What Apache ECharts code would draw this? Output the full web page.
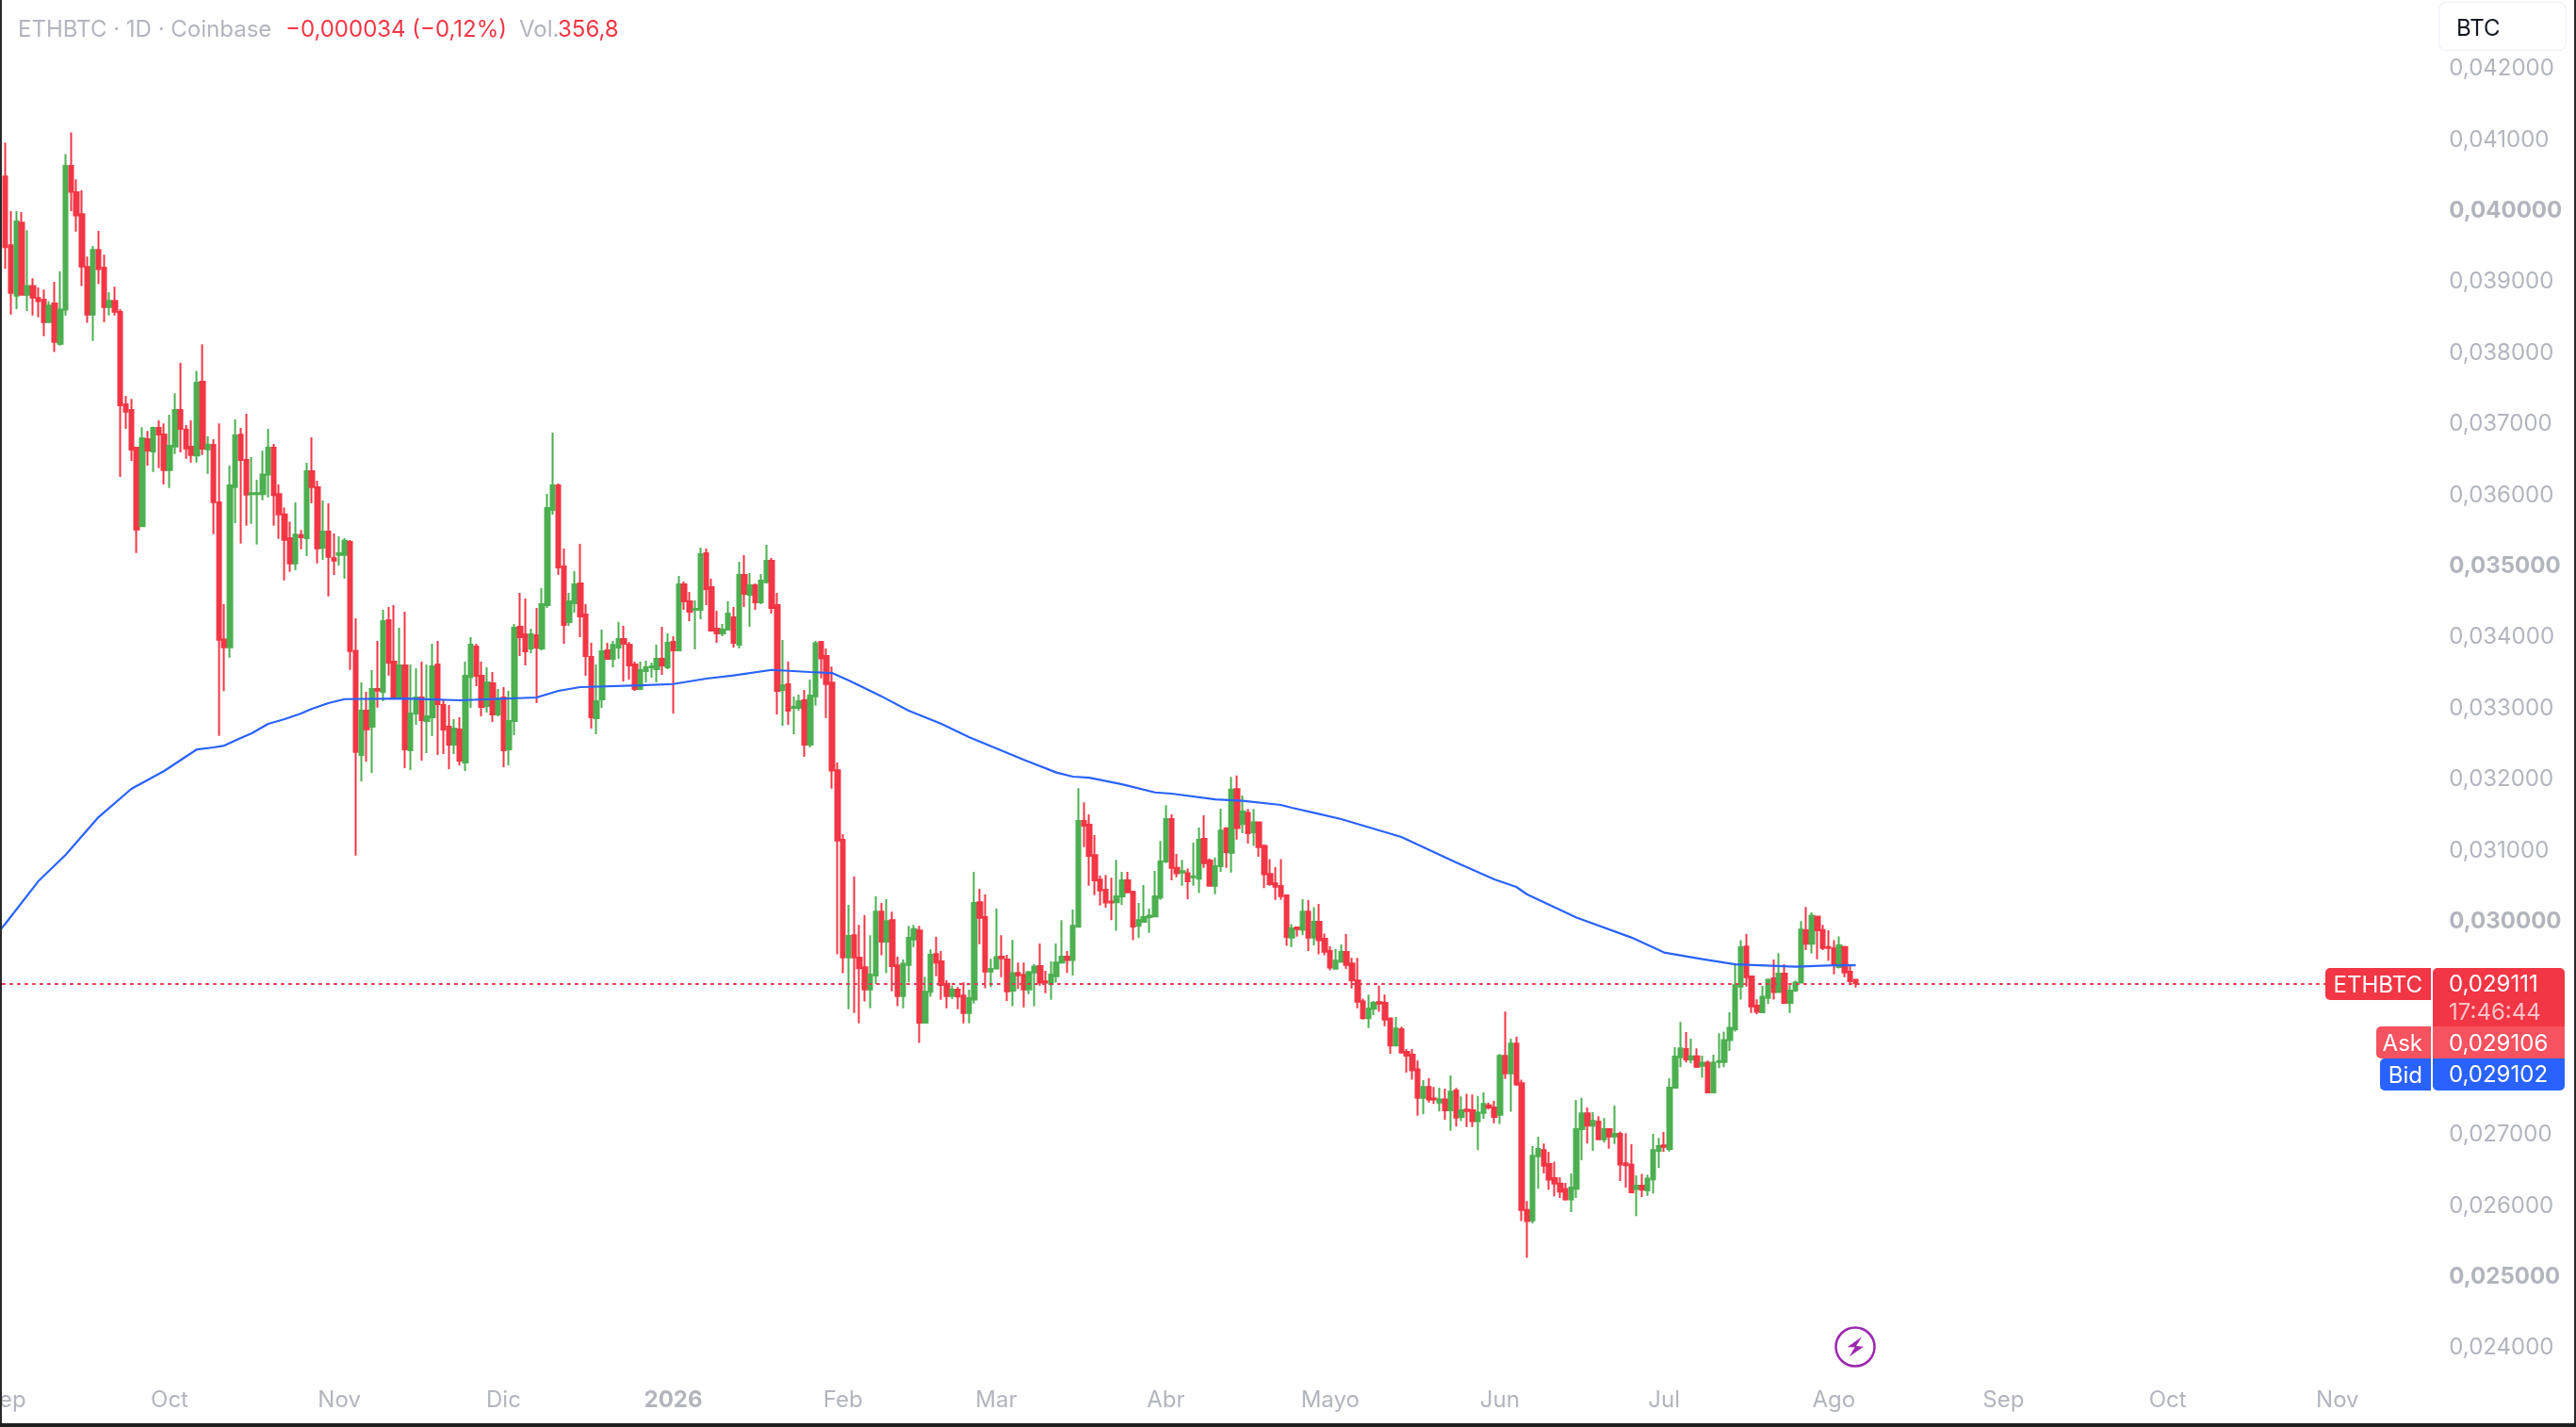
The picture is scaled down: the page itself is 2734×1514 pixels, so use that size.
<!DOCTYPE html>
<html><head><meta charset="utf-8"><title>ETHBTC</title>
<style>html,body{margin:0;padding:0;background:#fff}#c{width:2734px;height:1514px}</style>
<script src="https://cdn.jsdelivr.net/npm/echarts@6/dist/echarts.min.js"></script>
</head><body><div id="c"></div>
<script>
// All prices are in millionths of BTC. Each row: [open, close, low, high], first row = 1 Sep 2025
const candles = [
[40466,39471,39166,40943],[39496,38826,38522,39979],[38786,39831,38598,39979],[39816,38801,38786,39963],[38801,38923,38572,39710],
[38923,38760,38507,39034],[38755,38710,38481,38902],[38730,38415,38217,38872],[38415,38649,38405,38710],[38679,38136,37994,38984],
[38111,38593,38085,39131],[38593,40613,38507,40780],[40613,40248,39979,41085],[40243,39918,39689,40425],[39933,39197,38923,40273],
[39192,38522,38405,39339],[38522,39430,38151,39486],[39430,39161,38953,39699],[39182,38628,38415,39364],[38628,38715,38507,38836],
[38715,38562,38507,38913],[38557,37245,36237,38598],[37258,37157,36914,37378],[37179,36622,36463,37334],[36648,35499,35167,36662],
[35543,36781,35534,36936],[36768,36608,36396,36883],[36595,36927,36308,36944],[36927,36834,36361,37033],[36834,36334,36131,36989],
[36334,36675,36082,37112],[36666,37179,36560,37413],[37179,36914,36582,37842],[36905,36639,36494,36967],[36662,36547,36440,37033],
[36538,37563,36440,37730],[37577,36635,36547,38105],[36626,36693,36281,36812],[36688,35883,35432,36768],[35879,33947,32594,36989],
[33951,33841,33222,34447],[33841,36118,33695,36396],[36096,36821,35587,37046],[36830,36476,35300,36927],[36476,35990,35552,37126],
[35994,36007,35578,36516],[35994,36007,35287,36197],[35994,36272,35910,36604],[36272,36648,35950,36914],[36648,35981,35552,36701],
[35994,35711,35366,36131],[35711,35353,34783,35808],[35375,35021,34902,35609],[35021,35424,34924,35879],[35419,35388,35220,35490],
[35375,36317,35123,36436],[36317,36096,35866,36794],[36091,35234,35021,36184],[35242,35468,35070,35906],[35468,35114,34557,35866],
[35092,35061,34858,35441],[35141,35163,34990,35402],[35141,35340,34805,35375],[35322,33788,33523,35349],[33792,32369,30910,34248],
[32325,32948,31954,33346],[32948,32687,32228,33213],[32723,33253,32073,33518],[33253,33231,32991,33930],[33213,34208,33081,34367],
[34221,33625,33443,34407],[33638,33134,33112,34434],[33134,33585,33112,34115],[33585,32404,32139,34341],[32391,32908,32113,33598],
[32908,33134,32749,33545],[33134,32816,32245,33638],[32802,32869,32351,33598],[32855,33571,32590,33890],[33598,33041,32325,33930],
[33028,32683,32338,33107],[32723,32471,32126,33028],[32471,32696,32338,32829],[32683,32245,32179,32855],[32219,33439,32099,33638],
[33421,33877,32988,33983],[33850,33439,33293,33890],[33439,33001,32869,33638],[33014,33346,32922,33558],[33333,32895,32789,33492],
[32895,33121,32869,33253],[33134,32391,32152,33280],[32404,32802,32179,33227],[32802,34115,32603,34168],[34129,33983,33717,34606],
[34022,33784,33585,34526],[33823,34022,33757,34102],[34009,33837,33054,34394],[33823,34447,33797,34672],[34434,35800,34394,35999],
[35773,36118,35707,36861],[36118,34964,34858,36145],[34977,34155,33890,35229],[34195,34487,34142,34606],[34460,34725,34328,34911],
[34739,34274,33983,35296],[34301,33717,33439,34447],[33704,32855,32696,33903],[32842,33081,32617,33598],[33107,33784,32988,34089],
[33797,33678,33664,33903],[33678,33872,33558,33930],[33837,33956,33678,34195],[33956,33890,33359,34142],[33877,33585,33386,33916],
[33598,33253,33227,33638],[33253,33518,33240,33638],[33505,33558,33346,33651],[33558,33571,33412,33625],[33532,33678,33346,33877],
[33678,33585,33452,34129],[33558,33903,33532,34036],[33916,33797,32908,33996],[33797,34725,33788,34845],[34725,34487,34367,34765],
[34487,34341,34208,34619],[34367,34381,33810,34500],[34367,35150,34235,35243],[35163,34659,34434,35229],[34686,34076,34062,34805],
[34102,34036,33903,34354],[34036,34089,33996,34168],[34089,34314,34076,34487],[34261,33903,33837,34407],[33877,34858,33823,35044],
[34858,34593,34407,35137],[34580,34712,34129,34885],[34712,34473,34367,34739],[34473,34778,34447,34871],[34756,35057,34739,35282],
[35057,34394,34314,35097],[34434,33227,32895,34606],[33240,33306,32736,33943],[33319,32948,32749,33638],[32988,33001,32617,33147],
[32988,33081,32948,33174],[33094,32471,32298,33240],[32471,33160,32431,33386],[33152,33896,33020,33929],[33915,33683,33404,33929],
[33716,33323,32845,33825],[33342,32106,31850,33569],[32110,31120,29519,32219],[31130,29477,29254,31210],[29477,29780,28747,30216],
[29789,29477,28695,30613],[29472,29325,28548,29936],[29339,29027,28856,30069],[29027,29235,28761,29789],[29221,30121,29102,30334],
[30121,29699,29505,30244],[29699,29988,29254,30296],[30002,29353,28998,30121],[29363,28932,28790,29486],[28932,29387,28761,29448],
[29372,29751,29126,29922],[29728,29875,29623,29936],[29856,28557,28273,29922],[28557,28993,28548,29206],[28993,29514,28922,29590],
[29524,29405,29211,29765],[29420,29088,28880,29566],[29107,28932,28761,29154],[28932,29022,28894,29079],[29022,28927,28747,29060],
[28941,28695,28548,29126],[28695,28903,28548,29022],[28884,30244,28827,30680],[30253,30035,29661,30443],[30045,29278,29041,30362],
[29278,29315,29060,29458],[29320,29481,29306,30163],[29486,29462,29197,29789],[29448,28998,28865,29514],[29008,29254,28790,29723],
[29259,29225,29031,29405],[29230,29027,28775,29405],[29027,29268,28960,29287],[29263,29349,28790,29382],[29353,29121,29079,29671],
[29140,29121,28974,29287],[29102,29235,28880,29420],[29211,29405,29121,29671],[29405,29486,29387,30002],[29486,29439,29259,29566],
[29439,29922,29221,30149],[29908,31395,29893,31859],[31395,31329,31030,31660],[31343,30907,30485,31490],[30917,30561,30353,31196],
[30571,30419,30206,30628],[30429,30249,30178,30637],[30263,30249,30002,30599],[30254,30334,29851,30850],[30334,30561,30216,30680],
[30561,30391,30381,30680],[30400,29912,29718,30414],[29922,30002,29751,30244],[29979,30045,29969,30495],[30045,30064,29822,30163],
[30054,30334,30045,30694],[30320,30827,30287,31116],[30827,31424,30803,31618],[31424,30737,30561,31490],[30737,30661,30604,30931],
[30670,30689,30485,30850],[30661,30547,30296,30727],[30604,30618,30485,31092],[30585,31130,30381,31305],[31144,30803,30737,31476],
[30841,30485,30471,30869],[30485,30760,30367,30883],[30760,31262,30680,31570],[31291,30959,30737,31310],[30950,31836,30670,32016],
[31845,31296,31134,32035],[31352,31528,31225,31755],[31509,31225,31078,31566],[31239,31376,31044,31566],[31376,31030,30893,31381],
[31044,30647,30452,31068],[30651,30509,30485,30860],[30519,30471,30287,30746],[30481,30339,30287,30860],[30348,29766,29638,30353],
[29756,29884,29623,29945],[29898,29875,29770,29908],[29865,30121,29789,30296],[30121,29756,29566,30282],[29756,29979,29647,30182],
[29979,29718,29519,30230],[29740,29557,29507,29811],[29567,29334,29293,29633],[29319,29431,29304,29593],[29415,29552,29405,29659],
[29552,29370,29314,29806],[29390,29156,29040,29471],[29151,28852,28760,29471],[28857,28623,28603,28897],[28623,28755,28481,28953],
[28755,28837,28664,28862],[28847,28826,28710,29080],[28837,28603,28507,28953],[28618,28238,28121,28623],[28238,28476,28227,28639],
[28466,28136,28126,28502],[28146,28095,27857,28187],[28106,27887,27755,28187],[27903,27502,27248,28024],[27502,27654,27273,27750],
[27654,27476,27436,27776],[27491,27476,27415,27654],[27436,27476,27309,27644],[27476,27324,27192,27629],[27324,27588,27035,27816],
[27603,27222,27096,27639],[27233,27324,27172,27522],[27334,27314,27090,27557],[27324,27172,27090,27547],[27172,27293,26766,27527],
[27288,27415,27207,27578],[27395,27365,27334,27436],[27365,27233,27141,27456],[27263,28090,27131,28116],[28090,27847,27766,28715],
[27847,28263,27304,28334],[28263,27689,27669,28359],[27705,25923,25766,27755],[25923,25766,25248,26050],[25776,26684,25735,26822],
[26679,26781,26222,26953],[26766,26547,26436,26857],[26568,26349,26207,26740],[26370,26293,26116,26603],[26293,26182,26090,26380],
[26217,26070,26055,26304],[26070,26238,25892,26436],[26222,27060,26090,27471],[27060,27283,26623,27502],[27283,27111,26857,27365],
[27111,27177,26755,27299],[27167,26918,26908,27243],[26918,27060,26872,27217],[27060,26958,26786,27070],[26958,26994,26852,27390],
[26994,26562,26329,27025],[26578,26552,26238,27004],[26562,26172,26162,26847],[26217,26263,25837,26410],[26263,26207,26106,26431],
[26197,26365,26121,26420],[26355,26766,26156,26994],[26756,26822,26512,26938],[26832,26811,26740,27019],[26781,27644,26745,27776],
[27644,28080,27634,28212],[28070,28197,27933,28567],[28187,28040,27999,28425],[28040,28085,27984,28334],[28085,27938,27923,28197],
[27953,27994,27781,28095],[27994,27578,27568,28024],[27578,27994,27568,28106],[28004,28019,27918,28410],[28004,28314,27933,28431],
[28314,28486,28161,28705],[28466,29085,28431,29395],[29065,29618,28882,29720],[29628,29197,29065,29806],[29207,28786,28694,29222],
[28796,28710,28679,28887],[28705,28923,28694,29075],[28908,29161,28821,29177],[29182,28989,28882,29446],[28989,29248,28979,29537],
[29248,28837,28821,29380],[28837,29009,28694,29085],[29014,29121,28989,29151],[29121,29867,29111,29989],[29857,29669,29578,30187],
[29669,30065,29532,30111],[30050,29857,29451,30060],[29862,29608,29578,29933],[29623,29608,29431,29857],[29603,29370,29238,29720],
[29340,29645,29322,29773],[29623,29265,29199,29640],[29274,29141,29088,29376],[29163,29111,29053,29172]
];
// Long moving average, read at these day numbers (0 = 31 Aug 2025)
const maDays = [0,1,7,12,18,24,30,36,39,41,44,46,49,52,55,57,60,63,74,84,98,102,106,117,123,129,134,141,148,152,155,159,161,166,172,177,182,187,193,196,199,205,211,214,222,227,234,236,241,245,256,266,273,277,279,288,298,304,311,317,328,335,339];
const maValues = [29858,29951,30547,30919,31449,31847,32099,32404,32431,32457,32563,32630,32762,32829,32908,32975,33054,33111,33120,33094,33134,33227,33280,33306,33323,33399,33443,33522,33492,33478,33376,33227,33152,32948,32762,32577,32417,32258,32078,32020,32006,31913,31798,31781,31701,31680,31622,31582,31494,31423,31171,30813,30574,30468,30362,30037,29757,29545,29453,29380,29346,29367,29367];
const tickDays = [1,31,62,92,123,154,182,213,243,274,304,335,366,396,427];
const tickLabels = ['Sep','Oct','Nov','Dic','2026','Feb','Mar','Abr','Mayo','Jun','Jul','Ago','Sep','Oct','Nov'];
const lastPrice = 29111, askPrice = 29106, bidPrice = 29102;
const TOTAL_DAYS = 446, LINE_END_DAY = 425;

const fontF = 'Inter, "Noto Sans", sans-serif';
const GREY = '#b2b5be', RED = '#f23645', GREEN = '#4caf50', BLUE = '#2962ff', ASK = '#f7525f';

const categories = [];
for (let i = 0; i < TOTAL_DAYS; i++) {
  categories.push(new Date(Date.UTC(2025, 7, 31 + i)).toISOString().slice(0, 10));
}
const labelOf = {};
tickDays.forEach((d, i) => { labelOf[categories[d]] = tickLabels[i]; });

function priceLine(v, color) {
  return [{ xAxis: categories[0], yAxis: v, lineStyle: { color, width: 2, type: [3, 5], dashOffset: 5.5 } },
          { xAxis: categories[LINE_END_DAY], yAxis: v }];
}
function txt(text, x, y, fill, align, extra) {
  return Object.assign({ type: 'text', z: 110, silent: true,
    style: { text, x, y, fill, font: '400 24px ' + fontF, textAlign: align || 'left', textVerticalAlign: 'middle' } }, extra || {});
}
function box(x, y, width, height, fill, r) {
  return { type: 'rect', z: 100, silent: true, shape: { x, y, width, height, r }, style: { fill } };
}

const chart = echarts.init(document.getElementById('c'), null, { renderer: 'canvas', width: 2734, height: 1514, devicePixelRatio: 1 });
chart.setOption({
  animation: false,
  backgroundColor: '#ffffff',
  grid: { left: -3.01, width: 2591.3, top: -3.9, height: 1508, outerBoundsMode: 'none', containLabel: false },
  xAxis: {
    type: 'category', data: categories, boundaryGap: true,
    axisLine: { show: false }, axisTick: { show: false }, splitLine: { show: false },
    axisLabel: {
      inside: true, margin: 6, color: GREY, fontFamily: fontF, fontSize: 24,
      interval: (i) => tickDays.indexOf(i) >= 0,
      formatter: (value) => {
        const l = labelOf[value] || '';
        return l === '2026' ? '{b|2026}' : l;
      },
      rich: { b: { fontWeight: 700, color: GREY, fontFamily: fontF, fontSize: 24 } }
    }
  },
  yAxis: {
    type: 'value', position: 'right', min: 23000, max: 43000, interval: 1000,
    axisLine: { show: false }, axisTick: { show: false }, splitLine: { show: false },
    axisLabel: {
      margin: 11, color: GREY, fontFamily: fontF, fontSize: 24, padding: [3, 0, 0, 0],
      formatter: (v) => {
        if (v === 23000 || v === 43000) return '';
        const s = '0,0' + (v / 1000) + '000';
        return v % 5000 === 0 ? '{b|' + s + '}' : s;
      },
      rich: { b: { fontWeight: 700, color: GREY, fontFamily: fontF, fontSize: 24 } }
    }
  },
  series: [
    {
      name: 'MA', type: 'line', showSymbol: false, symbol: 'none', silent: true, z: 3,
      lineStyle: { color: BLUE, width: 2.2 },
      data: maDays.map((d, i) => [categories[d], maValues[i]])
    },
    {
      name: 'ETHBTC', type: 'candlestick', z: 2, barWidth: 5,
      itemStyle: { color: GREEN, color0: RED, borderColor: GREEN, borderColor0: RED, borderWidth: 2 },
      data: ['-'].concat(candles),
      markLine: {
        silent: true, symbol: 'none', animation: false, z: 6,
        label: { show: false },
        data: [priceLine(bidPrice, BLUE), priceLine(askPrice, ASK), priceLine(lastPrice, RED)]
      }
    }
  ],
  graphic: { elements: [
    // header
    txt('ETHBTC · 1D · Coinbase', 19, 32, GREY),
    txt('−0,000034 (−0,12%)', 303, 32, RED),
    txt('Vol.', 551, 32, GREY),
    txt('356,8', 592, 32, RED),
    // currency box
    { type: 'rect', z: 100, silent: true, shape: { x: 2588.5, y: 2.5, width: 135, height: 51, r: 8 }, style: { fill: '#fff', stroke: '#f0f3fa', lineWidth: 1.5 } },
    txt('BTC', 2607, 31, '#131722'),
    // price tags
    box(2468, 1027, 112, 34, RED, [5, 0, 0, 5]),
    box(2582, 1027, 140, 62, RED, [5, 5, 0, 0]),
    box(2522, 1089, 58, 34, ASK, [5, 0, 0, 5]),
    box(2582, 1089, 140, 34, ASK, [0, 0, 0, 0]),
    box(2526, 1123, 54, 34, BLUE, [5, 0, 0, 5]),
    box(2582, 1123, 140, 34, BLUE, [0, 0, 5, 5]),
    txt('ETHBTC', 2571, 1046, '#fff', 'right'),
    txt('0,0' + lastPrice, 2599, 1045, '#fff'),
    txt('17:46:44', 2599, 1075, 'rgba(255,255,255,0.7)'),
    txt('Ask', 2571, 1108, '#fff', 'right'),
    txt('0,0' + askPrice, 2599, 1108, '#fff'),
    txt('Bid', 2571, 1142, '#fff', 'right'),
    txt('0,0' + bidPrice, 2599, 1141, '#fff'),
    // lightning badge
    { type: 'circle', z: 100, silent: true, shape: { cx: 1969, cy: 1429, r: 20.5 }, style: { fill: '#fff', stroke: '#9c27b0', lineWidth: 2.5 } },
    { type: 'polygon', z: 101, silent: true, shape: { points: [[1976, 1418.3], [1960.7, 1429.3], [1968.6, 1429.3], [1962.9, 1439.3], [1977.9, 1428.7], [1970, 1428]] }, style: { fill: '#9c27b0' } },
    // window frame
    box(0, 0, 2, 1514, '#2a2a2a', 0),
    box(2732, 0, 2, 1514, '#2a2a2a', 0),
    box(0, 1510, 2734, 4, '#1f1f1f', 0)
  ] }
});
</script></body></html>
